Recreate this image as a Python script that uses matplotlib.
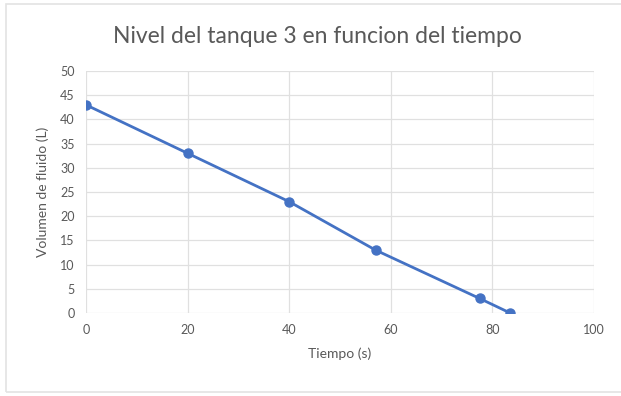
import matplotlib.pyplot as plt
from matplotlib.patches import Rectangle

# tank 3 drain readings
tiempo = [0, 20, 40, 57, 77.5, 83.5]
volumen = [43, 33, 23, 13, 3, 0]
x_ticks = [0, 20, 40, 60, 80, 100]
y_ticks = [0, 5, 10, 15, 20, 25, 30, 35, 40, 45, 50]

plt.rcParams['font.family'] = ['Lato', 'DejaVu Sans']
text_color = '#595959'
grid_color = '#e0e0e0'

fig = plt.figure(figsize=(6.21, 3.96), dpi=100)
fig.patches.append(Rectangle((0.009, 0.01), 1.0, 0.98, transform=fig.transFigure,
                             fill=False, edgecolor='#e3e3e3', linewidth=1.2))

ax = fig.add_axes([0.1385, 0.2096, 0.818, 0.6111])
ax.plot(tiempo, volumen, color='#4472C4', linewidth=2, marker='o',
        markersize=6.5, zorder=3)

ax.set_xlim(0, 100)
ax.set_ylim(0, 50)
ax.set_xticks(x_ticks)
ax.set_yticks(y_ticks)
ax.grid(True, color=grid_color, linewidth=0.9)
ax.tick_params(length=0, colors=text_color, labelsize=9, pad=8)
for s in ax.spines.values():
    s.set_visible(False)

ax.set_xlabel('Tiempo (s)', color=text_color, fontsize=10, labelpad=8)
ax.set_ylabel('Volumen de fluido (L)', color=text_color, fontsize=10, labelpad=8)
fig.text(0.511, 0.907, 'Nivel del tanque 3 en funcion del tiempo',
         ha='center', va='center', color=text_color, fontsize=16.5)

fig.savefig('out.png', dpi=100)
